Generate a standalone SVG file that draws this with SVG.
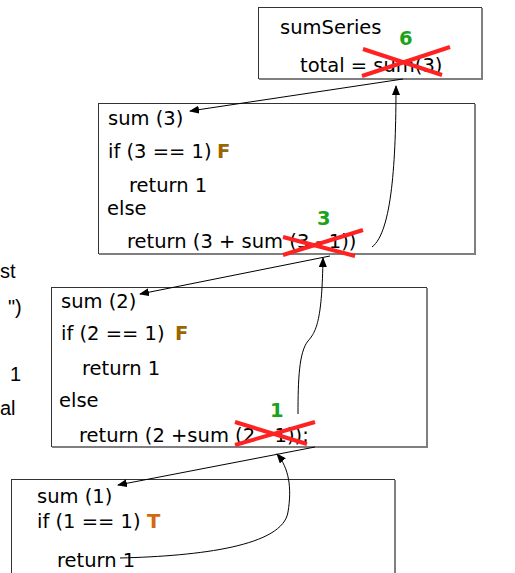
<svg xmlns="http://www.w3.org/2000/svg" width="515" height="573" viewBox="0 0 515 573">
<defs>
<marker id="ah" markerWidth="10" markerHeight="8" refX="9" refY="4" orient="auto" markerUnits="userSpaceOnUse">
<path d="M0,0 L10,4 L0,8 z" fill="#000"/>
</marker>
<style>
.box{fill:#fff;stroke:#333;stroke-width:1}
.sh{stroke:#7f7f7f;stroke-width:2;fill:none}
.t{font-family:"DejaVu Sans",Verdana,sans-serif;font-size:19.5px;fill:#000}
.side{font-family:"Liberation Sans",Arial,sans-serif;font-size:20px;fill:#000}
.F{font-family:"DejaVu Sans",Verdana,sans-serif;font-size:19.5px;font-weight:bold;fill:#996600}
.T{font-family:"DejaVu Sans",Verdana,sans-serif;font-size:19.5px;font-weight:bold;fill:#d2690f}
.g{font-family:"DejaVu Sans",Verdana,sans-serif;font-size:19.5px;font-weight:bold;fill:#1aa31a}
.x{stroke:#ff2222;stroke-width:4;stroke-linecap:butt}
.c{stroke:#000;stroke-width:1;fill:none}
</style>
</defs>
<rect width="515" height="573" fill="#fff"/>

<g id="side-text">
<text class="side" x="0" y="278">st</text>
<text class="side" x="8" y="314">")</text>
<text class="side" x="10" y="381">1</text>
<text class="side" x="0" y="415">al</text>
</g>

<g id="sumSeries">
<rect class="box" x="258.5" y="7.5" width="223" height="71"/>
<path class="sh" d="M482,8 V79 H259"/>
<text class="t" x="280" y="34">sumSeries</text>
<text class="t" x="300" y="72">total = sum(3)</text>
<text class="g" x="399" y="45">6</text>
<line class="x" x1="363" y1="49" x2="442" y2="75"/>
<line class="x" x1="362" y1="76" x2="450" y2="47"/>
</g>

<g id="sum3">
<rect class="box" x="98.5" y="103.5" width="376" height="150"/>
<path class="sh" d="M475,104 V254 H99"/>
<text class="t" x="108" y="125">sum (3)</text>
<text class="t" x="108" y="158">if (3 == 1)</text>
<text class="F" x="217" y="158">F</text>
<text class="t" x="129" y="192">return 1</text>
<text class="t" x="107" y="215">else</text>
<text class="t" x="127" y="248">return (3 + sum (3 - 1))</text>
<text class="g" x="317" y="225">3</text>
<line class="x" x1="283" y1="255" x2="363" y2="230"/>
<line class="x" x1="283" y1="237" x2="355" y2="256"/>
</g>

<g id="sum2">
<rect class="box" x="51.5" y="287.5" width="375" height="159"/>
<path class="sh" d="M427,288 V447 H52"/>
<text class="t" x="61" y="308">sum (2)</text>
<text class="t" x="61" y="340">if (2 == 1)</text>
<text class="F" x="175" y="340">F</text>
<text class="t" x="82" y="375">return 1</text>
<text class="t" x="59" y="407">else</text>
<text class="t" x="79" y="442">return (2 +sum (2 - 1));</text>
<text class="g" x="270" y="417">1</text>
<line class="x" x1="235" y1="445" x2="315" y2="422"/>
<line class="x" x1="235" y1="422" x2="307" y2="444"/>
</g>

<g id="sum1">
<rect class="box" x="11.5" y="479.5" width="383" height="110"/>
<path class="sh" d="M395,480 V590"/>
<text class="t" x="37" y="503">sum (1)</text>
<text class="t" x="37" y="528">if (1 == 1)</text>
<text class="T" x="147" y="528">T</text>
<text class="t" x="57" y="567">return 1</text>
</g>

<g id="connectors">
<line class="c" x1="403" y1="79" x2="190" y2="111" marker-end="url(#ah)"/>
<path class="c" d="M372,247 C392,232 396,160 396,86" marker-end="url(#ah)"/>
<line class="c" x1="330" y1="256" x2="140" y2="294" marker-end="url(#ah)"/>
<path class="c" d="M298,414 C298,380 299,352 308,341 C317,331 322,318 323,258" marker-end="url(#ah)"/>
<line class="c" x1="315" y1="447" x2="118" y2="485" marker-end="url(#ah)"/>
<path class="c" d="M120,558 C200,556 283,546 288,512 C292,488 289,468 277,454" marker-end="url(#ah)"/>
</g>
</svg>
